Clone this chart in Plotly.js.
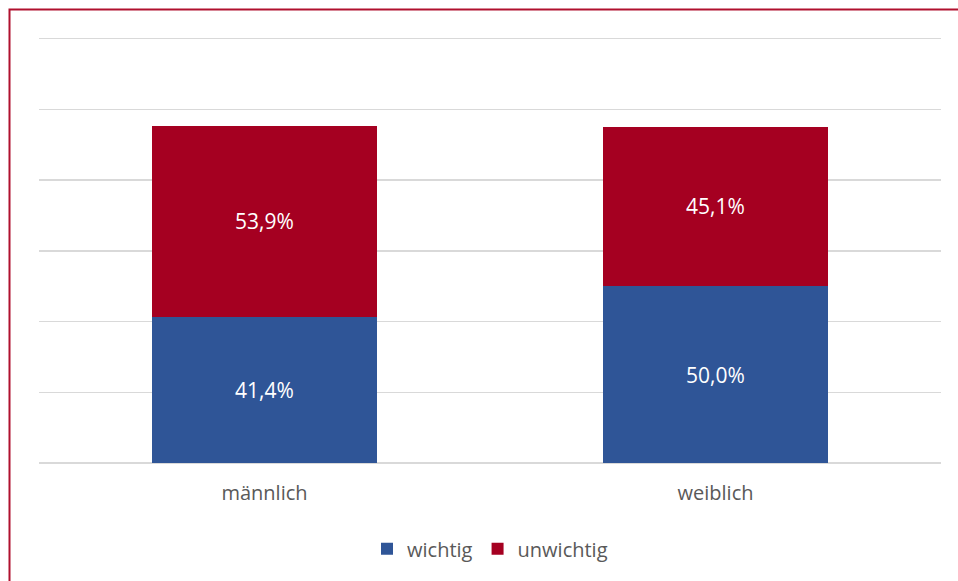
<!DOCTYPE html>
<html>
<head>
<meta charset="utf-8">
<script src="https://cdn.plot.ly/plotly-3.0.1.min.js"></script>
<style>html,body{margin:0;padding:0;background:#fff;}#chart{width:958px;height:581px;}</style>
</head>
<body>
<div id="chart"></div>
<script>
const categories = ["männlich", "weiblich"];
const seriesNames = ["wichtig", "unwichtig"];
const wichtig = [41.4, 50.0];
const unwichtig = [53.9, 45.1];
const yTicks = [0, 20, 40, 60, 80, 100, 120];

const FONT = "Open Sans, Liberation Sans, sans-serif";
const traces = [
  {name: seriesNames[0], x: categories, y: wichtig, color: "#2F5597"},
  {name: seriesNames[1], x: categories, y: unwichtig, color: "#A50021"}
].map(s => ({
  type: "bar", name: s.name, x: s.x, y: s.y,
  marker: {color: s.color, line: {width: 0}},
  texttemplate: "%{y:.1f}%", textposition: "inside", insidetextanchor: "middle",
  textfont: {color: "#ffffff", size: 21, family: FONT},
  hoverinfo: "none"
}));

const layout = {
  width: 958, height: 581,
  margin: {l: 39, r: 17, t: 35, b: 118},
  barmode: "stack", bargap: 0.5,
  separators: ",.",
  paper_bgcolor: "#ffffff", plot_bgcolor: "#ffffff",
  font: {family: FONT, color: "#595959", size: 19},
  xaxis: {tickfont: {size: 20, color: "#595959", family: FONT}, showline: false, ticks: "", ticklabelstandoff: 16},
  yaxis: {range: [0, 121], tickvals: yTicks, showticklabels: false, showgrid: true,
          gridcolor: "#D9D9D9", gridwidth: 1.5, zeroline: true, zerolinecolor: "#D9D9D9", zerolinewidth: 1.5},
  showlegend: true,
  legend: {orientation: "h", x: 0.5, xanchor: "center", y: -0.155, yanchor: "top",
           font: {size: 20, color: "#595959", family: FONT}, traceorder: "normal", itemwidth: 30},
  shapes: [{type: "rect", xref: "paper", yref: "paper",
            x0: (9.5 - 39) / 902, x1: 1.5, y0: -1, y1: 1 + (35 - 9.5) / 428,
            line: {color: "#B0102E", width: 2}, fillcolor: "rgba(0,0,0,0)", layer: "above"}]
};

Plotly.newPlot("chart", traces, layout, {displayModeBar: false, staticPlot: true});
</script>
</body>
</html>
